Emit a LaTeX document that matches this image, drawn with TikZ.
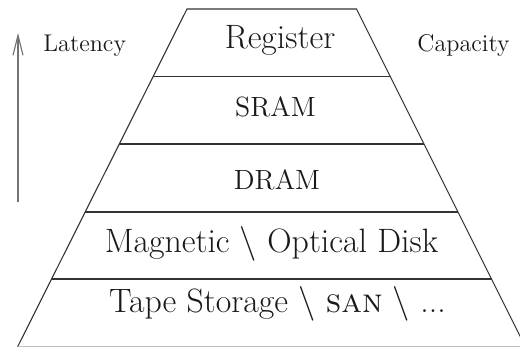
\documentclass[tikz,border=0pt]{standalone}
\usetikzlibrary{arrows.meta}
\begin{document}
\begin{tikzpicture}[x=0.5pt,y=-0.5pt,
  edge/.style={draw=black!80,line width=0.55pt},
  big/.style={font=\fontsize{16.9}{19}\selectfont,anchor=base,inner sep=0pt,text=black!90},
  mid/.style={font=\fontsize{13.9}{16}\selectfont,anchor=base,inner sep=0pt,text=black!90},
  side/.style={font=\fontsize{12.1}{14}\selectfont,anchor=base west,inner sep=0pt,text=black!90}]
\useasboundingbox (0,0) rectangle (520,347);
% trapezoid corners
\coordinate (L0) at (187,9);     \coordinate (R0) at (356.5,9);
\coordinate (L1) at (153.1,76.5);\coordinate (R1) at (390.2,76.5);
\coordinate (L2) at (119.3,144); \coordinate (R2) at (424,144);
\coordinate (L3) at (85.2,212);  \coordinate (R3) at (458,212);
\coordinate (L4) at (51.6,279);  \coordinate (R4) at (491.5,279);
\coordinate (L5) at (17.6,346.8);\coordinate (R5) at (525.4,346.8);
\draw[edge] (L5) -- (L0) -- (R0) -- (R5);
\draw[edge] (L1) -- (R1);
\draw[edge] (L2) -- (R2);
\draw[edge] (L3) -- (R3);
\draw[edge] (L4) -- (R4);
\draw[draw=black!25,line width=0.55pt] (L5) -- (R5);
% labels
\node[big] (reg) at (280,48.3) {Register};
\node[mid] (sram) at (275.5,117) {SRAM};
\node[mid] (dram) at (277,190) {DRAM};
\node[big] (mag) at (271.5,253) {Magnetic $\backslash$ Optical Disk};
\node[big] (tape) at (277.5,313) {Tape Storage $\backslash$ \textsc{san} $\backslash$ ...};
\node[side] (lat) at (43,52) {Latency};
\node[side] (cap) at (417,52) {Capacity};
% arrow
\coordinate (a0) at (18,202);
\coordinate (a1) at (18,33);
\draw[draw=black!55,line width=0.55pt,-{Straight Barb[length=10pt,width=5pt,line width=0.55pt]}] (a0) -- (a1);
\end{tikzpicture}
\end{document}
